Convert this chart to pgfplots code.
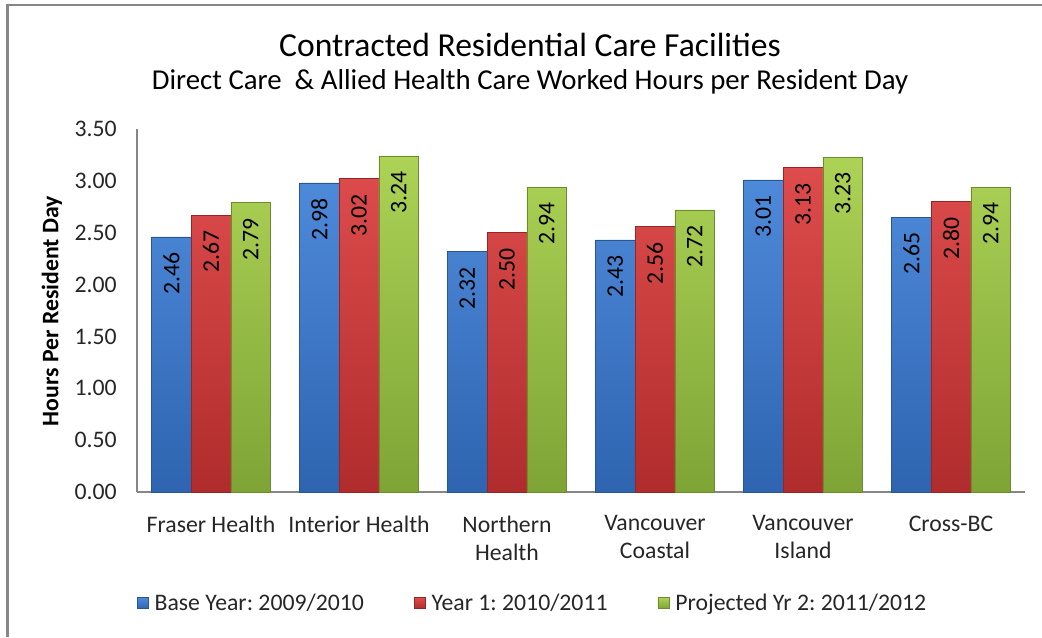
\documentclass[border=0pt]{standalone}
\usepackage{pgfplots}
\pgfplotsset{compat=1.18}
\usepackage{fontspec}
\setmainfont{Carlito}
\frenchspacing
\definecolor{bluel}{RGB}{78,138,218}
\definecolor{blued}{RGB}{46,100,176}
\definecolor{redl}{RGB}{222,76,76}
\definecolor{redd}{RGB}{176,44,44}
\definecolor{greenl}{RGB}{172,210,86}
\definecolor{greend}{RGB}{126,164,54}
\definecolor{axgray}{RGB}{134,134,134}
\begin{document}
\begin{tikzpicture}
\path[use as bounding box] (0,0) rectangle (781.5pt,-477.75pt);
\draw[axgray, line width=1.6pt] (5.6pt,-477.75pt) -- (5.6pt,-4pt) -- (781.5pt,-4pt);
\node[font=\fontsize{25.2}{30}\selectfont] at (397.5pt,-33.75pt) {Contracted Residential Care Facilities};
\node[font=\fontsize{21.6}{25}\selectfont] at (397.5pt,-61.5pt) {Direct Care \ \& Allied Health Care Worked Hours per Resident Day};
\begin{axis}[
  at={(102.75pt,-369pt)}, anchor=south west,
  scale only axis, width=666pt, height=272.25pt,
  xmin=-0.5, xmax=5.5, ymin=0, ymax=3.5,
  ytick={0,0.5,1,1.5,2,2.5,3,3.5},
  xtick={0,1,2,3,4,5},
  xticklabels={Fraser Health,Interior Health,Northern\\Health,Vancouver\\Coastal,Vancouver\\Island,Cross-BC},
  axis lines*=left,
  axis line style={axgray, line width=0.9pt},
  major tick length=0pt,
  tick label style={font=\fontsize{17.8}{21}\selectfont, text=black!85},
  xticklabel style={align=center, inner sep=0pt, yshift=-17.5pt},
  yticklabel style={inner sep=0pt, xshift=-15pt},
  /pgf/number format/.cd, fixed, zerofill, precision=2, assume math mode=true,
  /pgfplots/.cd,
  ylabel={Hours Per Resident Day},
  every axis y label/.style={at={(axis description cs:-0.0957,0.4986)}, rotate=90, anchor=center, font=\bfseries\fontsize{17.8}{21}\selectfont},
  ybar, bar width=29.75pt,
  nodes near coords,
  every node near coord/.append style={rotate=90, anchor=east, inner xsep=11.5pt, font=\fontsize{17.8}{21}\selectfont, text=black},
  legend columns=3,
  legend style={at={(rel axis cs:-0.005,-0.306)}, anchor=west, draw=none, fill=none,
    font=\fontsize{17.8}{21}\selectfont, text=black!85,
    /tikz/every even column/.append style={column sep=33pt},
    nodes={inner xsep=4.5pt}},
  legend image code/.code={\fill[#1] (0pt,-4.2pt) rectangle (8.4pt,4.2pt);},
]
\addplot[bar shift=-29.75pt, draw=blued!85!black, line width=0.5pt, top color=bluel, bottom color=blued] coordinates {(0,2.46) (1,2.98) (2,2.32) (3,2.43) (4,3.01) (5,2.65)};
\addplot[bar shift=0pt, draw=redd!85!black, line width=0.5pt, top color=redl, bottom color=redd] coordinates {(0,2.67) (1,3.02) (2,2.50) (3,2.56) (4,3.13) (5,2.80)};
\addplot[bar shift=29.75pt, draw=greend!85!black, line width=0.5pt, top color=greenl, bottom color=greend] coordinates {(0,2.79) (1,3.24) (2,2.94) (3,2.72) (4,3.23) (5,2.94)};
\legend{Base Year: 2009/2010, Year 1: 2010/2011, Projected Yr 2: 2011/2012}
\end{axis}
\end{tikzpicture}
\end{document}
